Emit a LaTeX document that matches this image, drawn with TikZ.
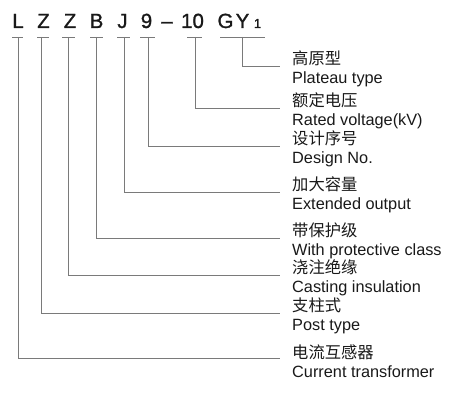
\documentclass[tikz,border=0pt]{standalone}
\usepackage{fontspec}
\setmainfont{Liberation Sans}
\newfontfamily\cjk{Noto Sans CJK SC}
\newfontfamily\codefont[FakeBold=1.2]{Liberation Sans}

\begin{document}
\begin{tikzpicture}[
    x=1pt, y=-1pt,
    code/.style={anchor=base, inner sep=0pt, font=\codefont\fontsize{20.5}{24}\selectfont, text=black!90},
    lbl/.style={anchor=west, inner sep=0pt, align=left, yshift=-3pt, font=\fontsize{16.3}{18.5}\selectfont, text=black!90},
    wire/.style={draw=black!52, line width=0.8pt}
]
\useasboundingbox (0,0) rectangle (462,412);

% model code
\node[code] (cL)  at (18,28)    {L};
\node[code] (cZa) at (43.5,28)  {Z};
\node[code] (cZb) at (70,28)    {Z};
\node[code] (cB)  at (96.5,28)  {B};
\node[code] (cJ)  at (122.5,28) {J};
\node[code] (c9)  at (146.5,28) {9};
\node[code] (cd)  at (167,28)   {–};
\node[code] (c10) at (192.5,28) {10};
\node[code] (cG)  at (225.5,28) {G};
\node[code] (cY)  at (242.5,28) {Y};
\node[code, font=\codefont\fontsize{13}{15}\selectfont] (c1) at (257.5,28) {1};

% short bars under the code
\draw[wire] (12,37) -- (23,37);
\draw[wire] (37,37) -- (49,37);
\draw[wire] (62,37) -- (75,37);
\draw[wire] (90,37) -- (103,37);
\draw[wire] (117,37) -- (130,37);
\draw[wire] (140,37) -- (155,37);
\draw[wire] (187,37) -- (202,37);
\draw[wire] (220,37) -- (265,37);

\coordinate (tL)  at (cL.base  |- 0,37);
\coordinate (tZa) at ([xshift=-2pt]cZa.base |- 0,37);
\coordinate (tZb) at ([xshift=-2pt]cZb.base |- 0,37);
\coordinate (tB)  at (cB.base  |- 0,37);
\coordinate (tJ)  at ([xshift=1.5pt]cJ.base |- 0,37);
\coordinate (t9)  at ([xshift=1.5pt]c9.base |- 0,37);
\coordinate (t10) at ([xshift=2.5pt]c10.base |- 0,37);
\coordinate (tY)  at (cY.base  |- 0,37);

% meanings
\node[lbl] (dGY) at (292,66)  {{\cjk 高原型}\\Plateau type};
\node[lbl] (d10) at (292,108) {{\cjk 额定电压}\\Rated voltage(kV)};
\node[lbl] (d9)  at (292,146) {{\cjk 设计序号}\\Design No.};
\node[lbl] (dJ)  at (292,192) {{\cjk 加大容量}\\Extended output};
\node[lbl] (dB)  at (292,238) {{\cjk 带保护级}\\With protective class};
\node[lbl] (dZb) at (292,275) {{\cjk 浇注绝缘}\\Casting insulation};
\node[lbl] (dZa) at (292,313) {{\cjk 支柱式}\\Post type};
\node[lbl] (dL)  at (292,358) {{\cjk 电流互感器}\\Current transformer};

% leaders
\draw[wire] (tY)  |- ([xshift=-12pt,yshift=3pt]dGY.west);
\draw[wire] (t10) |- ([xshift=-12pt,yshift=3pt]d10.west);
\draw[wire] (t9)  |- ([xshift=-12pt,yshift=3pt]d9.west);
\draw[wire] (tJ)  |- ([xshift=-12pt,yshift=3pt]dJ.west);
\draw[wire] (tB)  |- ([xshift=-12pt,yshift=3pt]dB.west);
\draw[wire] (tZb) |- ([xshift=-12pt,yshift=3pt]dZb.west);
\draw[wire] (tZa) |- ([xshift=-12pt,yshift=3pt]dZa.west);
\draw[wire] (tL)  |- ([xshift=-12pt,yshift=3pt]dL.west);
\end{tikzpicture}
\end{document}
